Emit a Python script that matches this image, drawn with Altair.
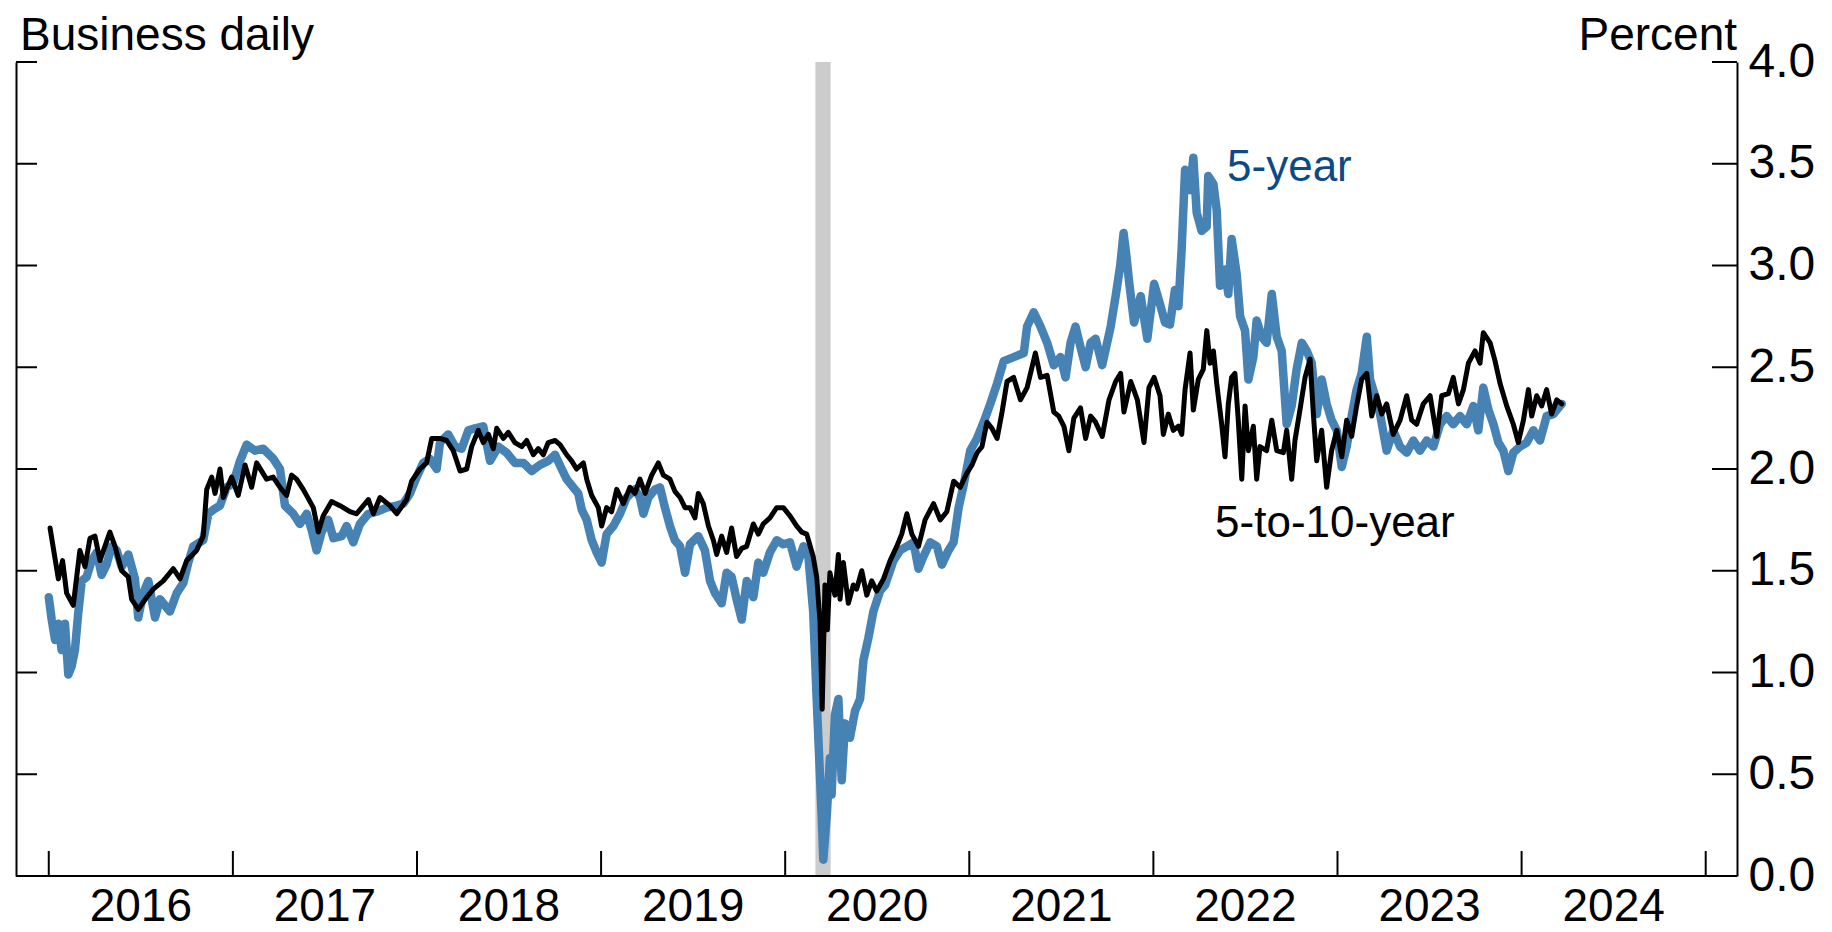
import altair as alt
import pandas as pd

# ---------------- data ----------------
# decimal-year dates and percent values, 5-year breakeven
YEAR_5Y = [
    2016.000, 2016.016, 2016.034, 2016.052, 2016.070, 2016.088, 2016.106, 2016.124, 2016.142, 2016.160,
    2016.179, 2016.206, 2016.233, 2016.260, 2016.287, 2016.314, 2016.341, 2016.369, 2016.396, 2016.432,
    2016.468, 2016.486, 2016.513, 2016.541, 2016.577, 2016.604, 2016.658, 2016.695, 2016.731, 2016.758,
    2016.785, 2016.839, 2016.867, 2016.894, 2016.930, 2016.966, 2017.002, 2017.039, 2017.075, 2017.120,
    2017.165, 2017.220, 2017.256, 2017.283, 2017.328, 2017.364, 2017.401, 2017.428, 2017.455, 2017.482,
    2017.518, 2017.546, 2017.591, 2017.618, 2017.654, 2017.690, 2017.736, 2017.781, 2017.835, 2017.890,
    2017.926, 2017.962, 2017.998, 2018.034, 2018.070, 2018.107, 2018.125, 2018.170, 2018.206, 2018.243,
    2018.279, 2018.315, 2018.360, 2018.397, 2018.442, 2018.487, 2018.532, 2018.578, 2018.623, 2018.668,
    2018.713, 2018.750, 2018.786, 2018.813, 2018.849, 2018.876, 2018.895, 2018.922, 2018.949, 2018.976,
    2019.003, 2019.030, 2019.067, 2019.103, 2019.139, 2019.184, 2019.211, 2019.230, 2019.257, 2019.293,
    2019.320, 2019.347, 2019.374, 2019.401, 2019.429, 2019.456, 2019.483, 2019.528, 2019.564, 2019.592,
    2019.619, 2019.655, 2019.682, 2019.709, 2019.736, 2019.764, 2019.791, 2019.827, 2019.854, 2019.881,
    2019.917, 2019.954, 2019.990, 2020.026, 2020.062, 2020.099, 2020.126, 2020.152, 2020.171, 2020.198,
    2020.207, 2020.226, 2020.243, 2020.252, 2020.270, 2020.289, 2020.307, 2020.325, 2020.352, 2020.379,
    2020.407, 2020.425, 2020.452, 2020.479, 2020.515, 2020.543, 2020.588, 2020.624, 2020.661, 2020.697,
    2020.724, 2020.751, 2020.788, 2020.824, 2020.851, 2020.887, 2020.915, 2020.942, 2020.969, 2021.005,
    2021.042, 2021.078, 2021.114, 2021.151, 2021.187, 2021.241, 2021.296, 2021.314, 2021.350, 2021.387,
    2021.423, 2021.459, 2021.495, 2021.523, 2021.550, 2021.577, 2021.604, 2021.632, 2021.659, 2021.686,
    2021.722, 2021.768, 2021.795, 2021.820, 2021.838, 2021.853, 2021.868, 2021.895, 2021.931, 2021.967,
    2022.004, 2022.036, 2022.063, 2022.090, 2022.117, 2022.136, 2022.154, 2022.172, 2022.199, 2022.217,
    2022.235, 2022.262, 2022.289, 2022.298, 2022.326, 2022.344, 2022.362, 2022.389, 2022.407, 2022.425,
    2022.452, 2022.471, 2022.498, 2022.516, 2022.543, 2022.561, 2022.588, 2022.615, 2022.643, 2022.670,
    2022.697, 2022.724, 2022.751, 2022.778, 2022.806, 2022.833, 2022.860, 2022.887, 2022.914, 2022.941,
    2022.968, 2022.996, 2023.023, 2023.050, 2023.077, 2023.104, 2023.131, 2023.159, 2023.177, 2023.204,
    2023.231, 2023.267, 2023.303, 2023.340, 2023.376, 2023.412, 2023.448, 2023.485, 2023.521, 2023.557,
    2023.593, 2023.629, 2023.666, 2023.702, 2023.738, 2023.765, 2023.792, 2023.820, 2023.847, 2023.874,
    2023.901, 2023.928, 2023.955, 2023.991, 2024.028, 2024.064, 2024.100, 2024.136, 2024.173, 2024.218,
]
RATE_5Y = [
    1.37, 1.26, 1.16, 1.24, 1.11, 1.24, 0.99, 1.03, 1.11, 1.29,
    1.45, 1.47, 1.55, 1.59, 1.48, 1.53, 1.62, 1.60, 1.52, 1.58,
    1.46, 1.27, 1.39, 1.45, 1.27, 1.36, 1.30, 1.39, 1.44, 1.54,
    1.62, 1.65, 1.78, 1.80, 1.82, 1.91, 1.93, 2.04, 2.12, 2.09,
    2.10, 2.05, 2.00, 1.82, 1.78, 1.73, 1.78, 1.70, 1.60, 1.69,
    1.75, 1.66, 1.67, 1.72, 1.64, 1.73, 1.78, 1.79, 1.81, 1.82,
    1.83, 1.88, 1.96, 2.03, 2.05, 2.00, 2.13, 2.17, 2.11, 2.10,
    2.19, 2.20, 2.21, 2.04, 2.11, 2.08, 2.03, 2.03, 1.99, 2.02,
    2.04, 2.07, 2.00, 1.95, 1.91, 1.88, 1.80, 1.75, 1.65, 1.59,
    1.54, 1.68, 1.72, 1.78, 1.86, 1.90, 1.86, 1.78, 1.86, 1.90,
    1.91, 1.81, 1.72, 1.65, 1.62, 1.49, 1.63, 1.67, 1.60, 1.45,
    1.39, 1.34, 1.49, 1.47, 1.36, 1.26, 1.45, 1.37, 1.54, 1.49,
    1.59, 1.65, 1.63, 1.64, 1.52, 1.62, 1.57, 1.30, 0.87, 0.30,
    0.08, 0.30, 0.58, 0.40, 0.79, 0.87, 0.47, 0.75, 0.68, 0.81,
    0.87, 1.06, 1.17, 1.30, 1.40, 1.43, 1.55, 1.60, 1.62, 1.64,
    1.51, 1.57, 1.64, 1.62, 1.53, 1.60, 1.64, 1.81, 1.92, 2.09,
    2.15, 2.23, 2.32, 2.42, 2.53, 2.55, 2.57, 2.70, 2.77, 2.70,
    2.62, 2.51, 2.55, 2.45, 2.62, 2.70, 2.60, 2.50, 2.62, 2.64,
    2.51, 2.70, 2.85, 3.00, 3.16, 3.05, 2.92, 2.72, 2.85, 2.64,
    2.91, 2.81, 2.72, 2.71, 2.88, 2.80, 3.09, 3.47, 3.37, 3.53,
    3.26, 3.17, 3.19, 3.44, 3.40, 3.27, 2.90, 2.98, 2.86, 3.13,
    2.96, 2.75, 2.68, 2.44, 2.55, 2.73, 2.65, 2.62, 2.86, 2.65,
    2.58, 2.22, 2.31, 2.49, 2.62, 2.58, 2.52, 2.27, 2.44, 2.32,
    2.24, 2.19, 2.01, 2.11, 2.26, 2.39, 2.47, 2.65, 2.44, 2.36,
    2.27, 2.09, 2.19, 2.11, 2.08, 2.14, 2.09, 2.14, 2.11, 2.22,
    2.26, 2.22, 2.26, 2.22, 2.31, 2.19, 2.40, 2.29, 2.22, 2.13,
    2.09, 1.99, 2.08, 2.11, 2.13, 2.19, 2.14, 2.26, 2.27, 2.32,
]

# 5-to-10-year forward breakeven
YEAR_5TO10 = [
    2016.007, 2016.052, 2016.075, 2016.097, 2016.133, 2016.169, 2016.197, 2016.224, 2016.251, 2016.278,
    2016.332, 2016.360, 2016.396, 2016.432, 2016.450, 2016.486, 2016.532, 2016.568, 2016.622, 2016.676,
    2016.713, 2016.749, 2016.803, 2016.839, 2016.858, 2016.885, 2016.903, 2016.930, 2016.948, 2016.993,
    2017.029, 2017.066, 2017.102, 2017.129, 2017.183, 2017.219, 2017.256, 2017.292, 2017.319, 2017.346,
    2017.382, 2017.437, 2017.464, 2017.491, 2017.536, 2017.582, 2017.636, 2017.672, 2017.736, 2017.763,
    2017.799, 2017.853, 2017.890, 2017.944, 2017.971, 2018.016, 2018.052, 2018.080, 2018.125, 2018.161,
    2018.197, 2018.234, 2018.270, 2018.297, 2018.333, 2018.360, 2018.388, 2018.415, 2018.433, 2018.469,
    2018.496, 2018.532, 2018.569, 2018.596, 2018.632, 2018.659, 2018.686, 2018.713, 2018.750, 2018.777,
    2018.813, 2018.840, 2018.867, 2018.904, 2018.922, 2018.949, 2018.985, 2019.003, 2019.030, 2019.057,
    2019.085, 2019.121, 2019.157, 2019.184, 2019.211, 2019.239, 2019.275, 2019.311, 2019.338, 2019.374,
    2019.401, 2019.429, 2019.456, 2019.483, 2019.510, 2019.528, 2019.555, 2019.583, 2019.610, 2019.628,
    2019.655, 2019.682, 2019.709, 2019.736, 2019.764, 2019.791, 2019.827, 2019.854, 2019.881, 2019.917,
    2019.954, 2019.990, 2020.026, 2020.062, 2020.090, 2020.117, 2020.152, 2020.171, 2020.189, 2020.201,
    2020.216, 2020.229, 2020.243, 2020.270, 2020.289, 2020.298, 2020.316, 2020.343, 2020.370, 2020.388,
    2020.416, 2020.443, 2020.470, 2020.497, 2020.534, 2020.570, 2020.606, 2020.633, 2020.661, 2020.688,
    2020.724, 2020.760, 2020.806, 2020.842, 2020.878, 2020.915, 2020.951, 2020.987, 2021.015, 2021.042,
    2021.069, 2021.096, 2021.123, 2021.151, 2021.178, 2021.205, 2021.241, 2021.278, 2021.314, 2021.359,
    2021.387, 2021.423, 2021.459, 2021.486, 2021.514, 2021.541, 2021.568, 2021.604, 2021.632, 2021.659,
    2021.686, 2021.722, 2021.759, 2021.795, 2021.822, 2021.840, 2021.877, 2021.913, 2021.949, 2021.976,
    2022.004, 2022.036, 2022.054, 2022.081, 2022.108, 2022.136, 2022.154, 2022.172, 2022.199, 2022.217,
    2022.244, 2022.271, 2022.290, 2022.308, 2022.326, 2022.344, 2022.371, 2022.389, 2022.407, 2022.425,
    2022.443, 2022.461, 2022.480, 2022.498, 2022.516, 2022.543, 2022.561, 2022.579, 2022.615, 2022.643,
    2022.670, 2022.706, 2022.724, 2022.751, 2022.769, 2022.796, 2022.824, 2022.851, 2022.869, 2022.887,
    2022.914, 2022.941, 2022.968, 2022.996, 2023.023, 2023.050, 2023.077, 2023.104, 2023.131, 2023.159,
    2023.186, 2023.213, 2023.240, 2023.267, 2023.303, 2023.340, 2023.376, 2023.403, 2023.430, 2023.466,
    2023.503, 2023.539, 2023.566, 2023.602, 2023.629, 2023.657, 2023.684, 2023.711, 2023.747, 2023.774,
    2023.792, 2023.829, 2023.856, 2023.883, 2023.919, 2023.955, 2023.982, 2024.010, 2024.037, 2024.055,
    2024.082, 2024.109, 2024.136, 2024.163, 2024.191, 2024.218,
]
RATE_5TO10 = [
    1.71, 1.46, 1.55, 1.39, 1.33, 1.60, 1.52, 1.66, 1.67, 1.55,
    1.69, 1.62, 1.50, 1.47, 1.36, 1.31, 1.37, 1.41, 1.45, 1.51,
    1.46, 1.55, 1.60, 1.67, 1.90, 1.96, 1.88, 2.00, 1.86, 1.96,
    1.87, 2.02, 1.91, 2.03, 1.95, 1.96, 1.91, 1.87, 1.97, 1.95,
    1.90, 1.81, 1.69, 1.77, 1.84, 1.82, 1.79, 1.78, 1.85, 1.78,
    1.86, 1.82, 1.78, 1.85, 1.94, 2.00, 2.03, 2.15, 2.15, 2.14,
    2.09, 1.99, 2.00, 2.11, 2.19, 2.13, 2.17, 2.10, 2.20, 2.15,
    2.18, 2.13, 2.11, 2.14, 2.07, 2.10, 2.07, 2.13, 2.14, 2.12,
    2.07, 2.04, 2.00, 2.03, 1.95, 1.87, 1.81, 1.72, 1.81, 1.79,
    1.90, 1.83, 1.91, 1.88, 1.95, 1.88, 1.97, 2.03, 1.97, 1.95,
    1.89, 1.86, 1.81, 1.81, 1.76, 1.88, 1.83, 1.72, 1.65, 1.58,
    1.67, 1.59, 1.71, 1.57, 1.61, 1.62, 1.73, 1.68, 1.73, 1.76,
    1.81, 1.81, 1.77, 1.72, 1.69, 1.68, 1.57, 1.47, 1.25, 0.82,
    1.43, 1.21, 1.49, 1.38, 1.58, 1.36, 1.54, 1.34, 1.43, 1.41,
    1.50, 1.38, 1.45, 1.40, 1.46, 1.55, 1.62, 1.68, 1.78, 1.68,
    1.62, 1.75, 1.83, 1.75, 1.79, 1.94, 1.91, 1.98, 2.02, 2.08,
    2.11, 2.23, 2.20, 2.15, 2.28, 2.43, 2.45, 2.34, 2.40, 2.57,
    2.45, 2.46, 2.28, 2.26, 2.21, 2.09, 2.25, 2.30, 2.15, 2.26,
    2.23, 2.16, 2.34, 2.43, 2.47, 2.28, 2.43, 2.34, 2.13, 2.40,
    2.45, 2.36, 2.17, 2.27, 2.19, 2.21, 2.17, 2.39, 2.57, 2.29,
    2.44, 2.49, 2.68, 2.52, 2.58, 2.42, 2.22, 2.06, 2.32, 2.45,
    2.47, 2.24, 1.95, 2.31, 2.09, 2.21, 1.95, 2.11, 2.09, 2.24,
    2.09, 2.08, 2.19, 1.95, 2.14, 2.29, 2.45, 2.54, 2.27, 2.04,
    2.19, 1.91, 2.09, 2.19, 2.06, 2.24, 2.16, 2.31, 2.44, 2.47,
    2.26, 2.36, 2.27, 2.32, 2.17, 2.24, 2.36, 2.24, 2.22, 2.32,
    2.36, 2.16, 2.36, 2.37, 2.45, 2.32, 2.39, 2.52, 2.58, 2.52,
    2.67, 2.62, 2.53, 2.42, 2.31, 2.22, 2.13, 2.24, 2.39, 2.26,
    2.36, 2.31, 2.39, 2.27, 2.34, 2.32,
]

RECESSION_START = [2020.164]
RECESSION_END = [2020.247]

Y_TICKS = [0.0, 0.5, 1.0, 1.5, 2.0, 2.5, 3.0, 3.5, 4.0]
YEAR_TICKS = [2016, 2017, 2018, 2019, 2020, 2021, 2022, 2023, 2024, 2025]
YEAR_LABEL_POS = [2016.5, 2017.5, 2018.5, 2019.5, 2020.5, 2021.5, 2022.5, 2023.5, 2024.5]
YEAR_LABELS = ["2016", "2017", "2018", "2019", "2020", "2021", "2022", "2023", "2024"]

SERIES_LABELS = ["5-year", "5-to-10-year"]
SERIES_LABEL_T = [2022.40, 2022.335]
SERIES_LABEL_V = [3.415, 1.666]

# ---------------- layout / style ----------------
W, H = 1721, 814
FONT = "Liberation Sans, Arial, Helvetica, sans-serif"
BLUE = "#4682b4"
LABEL_BLUE = "#0b4a85"
XDOM = [2015.822, 2025.170]
YDOM = [0, 4]

xscale = alt.Scale(domain=XDOM, nice=False, zero=False)
yscale = alt.Scale(domain=YDOM, nice=False, zero=False)

df5 = pd.DataFrame({"t": YEAR_5Y, "v": RATE_5Y})
df510 = pd.DataFrame({"t": YEAR_5TO10, "v": RATE_5TO10})
rec = pd.DataFrame({"t": RECESSION_START, "t2": RECESSION_END})
yt = pd.DataFrame({"v": Y_TICKS})
xt = pd.DataFrame({"t": YEAR_TICKS})
xl = pd.DataFrame({"t": YEAR_LABEL_POS, "label": YEAR_LABELS})
lab = pd.DataFrame({"t": SERIES_LABEL_T, "v": SERIES_LABEL_V, "label": SERIES_LABELS})

X = alt.X("t:Q", scale=xscale, axis=None)

y_left = alt.Axis(orient="left", labels=False, ticks=False, grid=False, domain=True,
                  domainColor="black", domainWidth=2, title=None)
y_right = alt.Axis(orient="right", values=Y_TICKS, format=".1f", ticks=False, grid=False,
                   domain=True, domainColor="black", domainWidth=2, labelFont=FONT,
                   labelFontSize=48, labelColor="black", labelPadding=11, labelFlush=False,
                   labelOverlap=False, title=None)

band = alt.Chart(rec).mark_rect(color="#cccccc").encode(
    x=X, x2="t2:Q", y=alt.value(0), y2=alt.value(H),
)

line5 = alt.Chart(df5).mark_line(color=BLUE, strokeWidth=8.5, strokeJoin="round", strokeCap="round").encode(
    x=X, y=alt.Y("v:Q", scale=yscale, axis=y_left),
)

line510 = alt.Chart(df510).mark_line(color="black", strokeWidth=5, strokeJoin="round", strokeCap="round").encode(
    x=X, y=alt.Y("v:Q", scale=yscale, axis=y_right),
)

bottom_line = alt.Chart(pd.DataFrame({"k": [0]})).mark_rule(color="black", strokeWidth=2).encode(
    x=alt.value(0), x2=alt.value(W), y=alt.value(H),
)

left_ticks = alt.Chart(yt).mark_rule(color="black", strokeWidth=2).encode(
    y=alt.Y("v:Q", scale=yscale, axis=None), x=alt.value(0), x2=alt.value(21),
)
right_ticks = alt.Chart(yt).mark_rule(color="black", strokeWidth=2).encode(
    y=alt.Y("v:Q", scale=yscale, axis=None), x=alt.value(W - 25), x2=alt.value(W),
)
year_ticks = alt.Chart(xt).mark_rule(color="black", strokeWidth=2).encode(
    x=X, y=alt.value(H - 25), y2=alt.value(H),
)
year_labels = alt.Chart(xl).mark_text(
    align="center", baseline="alphabetic", font=FONT, fontSize=46, color="black"
).encode(x=X, y=alt.value(H + 45), text="label:N")

labels = alt.Chart(lab).mark_text(align="left", baseline="alphabetic", font=FONT, fontSize=44).encode(
    x=X,
    y=alt.Y("v:Q", scale=yscale, axis=None),
    text="label:N",
    color=alt.Color("label:N", scale=alt.Scale(domain=SERIES_LABELS, range=[LABEL_BLUE, "black"]), legend=None),
)

unit_note = alt.Chart(pd.DataFrame({"s": ["Business daily"]})).mark_text(
    align="left", baseline="alphabetic", font=FONT, fontSize=46, color="black"
).encode(x=alt.value(4), y=alt.value(-12), text="s:N")

pct_note = alt.Chart(pd.DataFrame({"s": ["Percent"]})).mark_text(
    align="right", baseline="alphabetic", font=FONT, fontSize=46, color="black"
).encode(x=alt.value(W), y=alt.value(-12), text="s:N")

chart = alt.layer(
    band, line5, line510, bottom_line, left_ticks, right_ticks, year_ticks, year_labels,
    labels, unit_note, pct_note
).resolve_axis(y="independent").properties(
    width=W, height=H,
    autosize=alt.AutoSizeParams(type="none"),
    padding={"left": 8, "top": 54, "right": 80, "bottom": 58},
).configure_view(stroke=None)

chart.save("out.html", embed_options={"renderer": "svg", "actions": False})
